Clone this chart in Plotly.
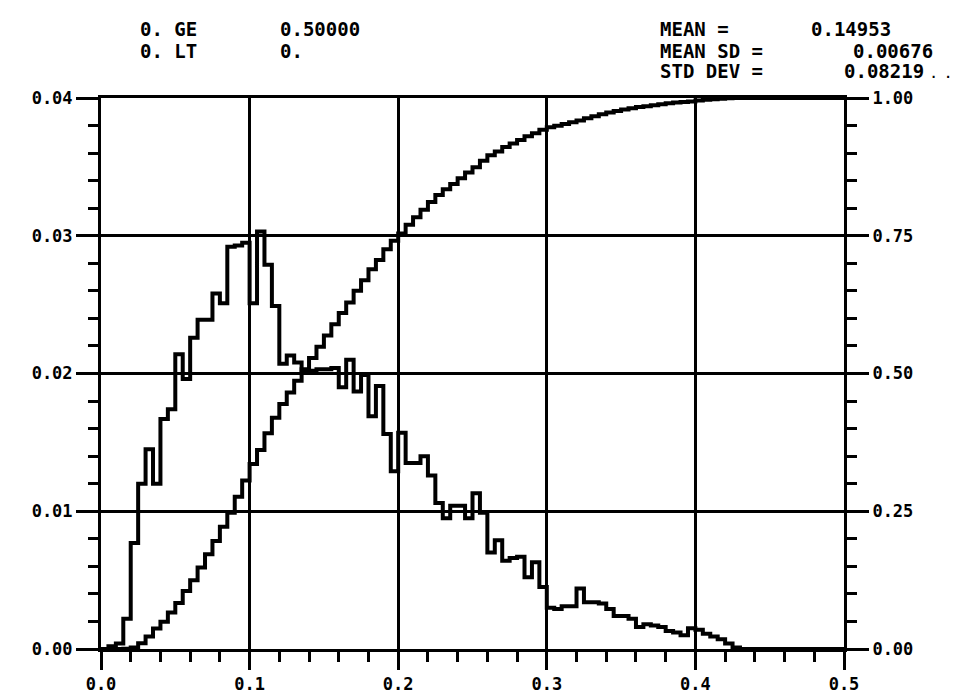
import numpy as np
import plotly.graph_objects as go

# ---- data ----
BIN_WIDTH = 0.005
hist_values = [
    0.0, 0.0002, 0.0004, 0.0022, 0.0077, 0.0120, 0.0145, 0.0120, 0.0167, 0.0174,
    0.0214, 0.0196, 0.0226, 0.0239, 0.0239, 0.0258, 0.0251, 0.0292, 0.0293, 0.0295,
    0.0251, 0.0303, 0.0279, 0.0249, 0.0207, 0.0213, 0.0208, 0.0201, 0.0202, 0.0203,
    0.0203, 0.0204, 0.0190, 0.0210, 0.0187, 0.0199, 0.0169, 0.0191, 0.0156, 0.0129,
    0.0157, 0.0135, 0.0135, 0.0140, 0.0126, 0.0106, 0.0095, 0.0104, 0.0104, 0.0095,
    0.0113, 0.0099, 0.0070, 0.0079, 0.0064, 0.0066, 0.0067, 0.0052, 0.0063, 0.0045,
    0.0030, 0.0029, 0.0031, 0.0031, 0.0044, 0.0034, 0.0034, 0.0033, 0.0029, 0.0024,
    0.0024, 0.0022, 0.0016, 0.0018, 0.0017, 0.0016, 0.0013, 0.0012, 0.0010, 0.0015,
    0.0014, 0.0011, 0.0009, 0.0007, 0.0004, 0.0001, 0.0, 0.0, 0.0, 0.0,
    0.0, 0.0, 0.0, 0.0, 0.0, 0.0, 0.0, 0.0, 0.0, 0.0,
]
bin_starts = [round(i * BIN_WIDTH, 3) for i in range(len(hist_values))]
bin_ends = [round((i + 1) * BIN_WIDTH, 3) for i in range(len(hist_values))]

x_ticks = [0.0, 0.1, 0.2, 0.3, 0.4, 0.5]
x_ticklabels = ["0.0", "0.1", "0.2", "0.3", "0.4", "0.5"]
left_ticks = [0.0, 0.01, 0.02, 0.03, 0.04]
left_ticklabels = ["0.00", "0.01", "0.02", "0.03", "0.04"]
right_ticks = [0.0, 0.25, 0.5, 0.75, 1.0]
right_ticklabels = ["0.00", "0.25", "0.50", "0.75", "1.00"]

header_left = [("0. GE", "0.50000"), ("0. LT", "0.")]
header_right = [("MEAN =", "0.14953"), ("MEAN SD =", "0.00676"), ("STD DEV =", "0.08219")]

# cumulative distribution derived from the histogram
cum = np.cumsum(hist_values)
cdf_values = list(cum / cum[-1])

# ---- figure ----
FONT = "DejaVu Sans Mono"
W, H = 967, 698
L, R, T, B = 93, 131, 90, 48
pw, ph = W - L - R, H - T - B

def px(x):
    return (x - L) / pw

def py(y):
    return (H - B - y) / ph

fig = go.Figure()

fig.add_trace(go.Scatter(
    x=bin_starts + [bin_ends[-1]],
    y=hist_values + [hist_values[-1]],
    mode="lines", line=dict(shape="hv", color="black", width=4),
    showlegend=False, hoverinfo="skip", yaxis="y",
))
fig.add_trace(go.Scatter(
    x=[0.0] + bin_ends,
    y=[0.0] + cdf_values,
    mode="lines", line=dict(shape="hv", color="black", width=4),
    showlegend=False, hoverinfo="skip", yaxis="y2",
))

axis_common = dict(
    showline=True, linecolor="black", linewidth=3,
    ticks="outside", tickcolor="black", tickwidth=3,
    zeroline=False,
    tickfont=dict(family=FONT, size=17, color="black", weight="bold"),
)

fig.update_layout(
    width=W, height=H,
    margin=dict(l=L, r=R, t=T, b=B, pad=0),
    paper_bgcolor="white", plot_bgcolor="white",
    font=dict(family=FONT, color="black", weight="bold"),
    xaxis=dict(
        range=[0, 0.5], tickvals=x_ticks, ticktext=x_ticklabels,
        showgrid=True, gridcolor="black", gridwidth=3, ticklen=18,
        minor=dict(dtick=0.02, tick0=0, ticks="outside", ticklen=10,
                   tickwidth=3, tickcolor="black", showgrid=False),
        mirror=True, **axis_common,
    ),
    yaxis=dict(
        range=[0, 0.04], tickvals=left_ticks, ticktext=left_ticklabels,
        showgrid=True, gridcolor="black", gridwidth=3, ticklen=22,
        minor=dict(dtick=0.002, tick0=0, ticks="outside", ticklen=10,
                   tickwidth=3, tickcolor="black", showgrid=False),
        **axis_common,
    ),
    yaxis2=dict(
        range=[0, 1], tickvals=right_ticks, ticktext=right_ticklabels,
        overlaying="y", side="right", showgrid=False, ticklen=22,
        minor=dict(dtick=0.05, tick0=0, ticks="outside", ticklen=10,
                   tickwidth=3, tickcolor="black", showgrid=False),
        **axis_common,
    ),
)

txt_font = dict(family=FONT, size=19, color="black", weight="bold")
rows_y = [20, 42, 63]
for i, (lab, val) in enumerate(header_left):
    fig.add_annotation(x=px(130), y=py(rows_y[i]), xref="paper", yref="paper",
                       text=lab, showarrow=False, xanchor="left", yanchor="middle", font=txt_font)
    fig.add_annotation(x=px(270), y=py(rows_y[i]), xref="paper", yref="paper",
                       text=val, showarrow=False, xanchor="left", yanchor="middle", font=txt_font)
val_right = [885, 927, 918]
for i, (lab, val) in enumerate(header_right):
    fig.add_annotation(x=px(650), y=py(rows_y[i]), xref="paper", yref="paper",
                       text=lab, showarrow=False, xanchor="left", yanchor="middle", font=txt_font)
    fig.add_annotation(x=px(val_right[i]), y=py(rows_y[i]), xref="paper", yref="paper",
                       text=val, showarrow=False, xanchor="right", yanchor="middle", font=txt_font)
fig.add_annotation(x=px(960), y=py(rows_y[2] + 3), xref="paper", yref="paper",
                   text=". . .", showarrow=False, xanchor="right", yanchor="middle",
                   font=dict(family=FONT, size=12, color="black"))

fig.write_html("out.html")
